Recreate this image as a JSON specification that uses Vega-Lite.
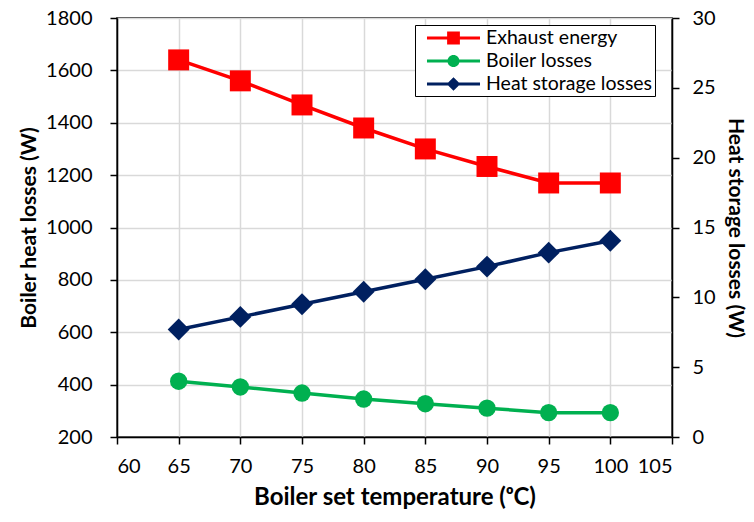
{
  "$schema": "https://vega.github.io/schema/vega-lite/v6.json",
  "width": 555,
  "height": 419,
  "autosize": {"type": "none"},
  "padding": {"left": 117, "top": 18, "right": 82, "bottom": 85},
  "background": "white",
  "config": {
    "font": "Lato",
    "view": {"stroke": "black", "strokeWidth": 1.5},
    "axis": {
      "domainColor": "black",
      "domainWidth": 1.5,
      "tickColor": "black",
      "tickWidth": 1.5,
      "tickSize": 7,
      "labelFont": "Lato",
      "labelFontSize": 20,
      "labelColor": "black",
      "titleFont": "Lato",
      "titleFontSize": 21,
      "titleFontWeight": "bold",
      "titleColor": "black",
      "gridColor": "#d9d9d9",
      "gridWidth": 1.5
    }
  },
  "data": {
    "values": [
      {"T": 65, "series": "Exhaust energy", "value": 1640},
      {"T": 70, "series": "Exhaust energy", "value": 1560},
      {"T": 75, "series": "Exhaust energy", "value": 1468},
      {"T": 80, "series": "Exhaust energy", "value": 1380},
      {"T": 85, "series": "Exhaust energy", "value": 1300},
      {"T": 90, "series": "Exhaust energy", "value": 1233},
      {"T": 95, "series": "Exhaust energy", "value": 1170},
      {"T": 100, "series": "Exhaust energy", "value": 1170},
      {"T": 65, "series": "Boiler losses", "value": 413},
      {"T": 70, "series": "Boiler losses", "value": 391},
      {"T": 75, "series": "Boiler losses", "value": 368},
      {"T": 80, "series": "Boiler losses", "value": 345},
      {"T": 85, "series": "Boiler losses", "value": 327},
      {"T": 90, "series": "Boiler losses", "value": 310},
      {"T": 95, "series": "Boiler losses", "value": 293},
      {"T": 100, "series": "Boiler losses", "value": 293},
      {"T": 65, "series": "Heat storage losses", "value": 7.7},
      {"T": 70, "series": "Heat storage losses", "value": 8.6},
      {"T": 75, "series": "Heat storage losses", "value": 9.5},
      {"T": 80, "series": "Heat storage losses", "value": 10.4},
      {"T": 85, "series": "Heat storage losses", "value": 11.3},
      {"T": 90, "series": "Heat storage losses", "value": 12.2},
      {"T": 95, "series": "Heat storage losses", "value": 13.2},
      {"T": 100, "series": "Heat storage losses", "value": 14.05}
    ]
  },
  "encoding": {
    "x": {
      "field": "T",
      "type": "quantitative",
      "scale": {"domain": [60, 105], "nice": false, "zero": false},
      "axis": {
        "values": [60, 65, 70, 75, 80, 85, 90, 95, 100, 105],
        "title": "Boiler set temperature (ᵒC)",
        "grid": true,
        "labelPadding": 12,
        "titlePadding": 9,
        "titleFontSize": 24
      }
    },
    "color": {
      "field": "series",
      "type": "nominal",
      "scale": {
        "domain": ["Exhaust energy", "Boiler losses", "Heat storage losses"],
        "range": ["#ff0000", "#00b050", "#002060"]
      },
      "legend": {
        "title": null,
        "orient": "none",
        "legendX": 298,
        "legendY": 7,
        "direction": "vertical",
        "strokeColor": "black",
        "fillColor": "white",
        "padding": 2,
        "cornerRadius": 0,
        "labelFontSize": 19.5,
        "labelColor": "black",
        "labelFont": "Lato",
        "labelLimit": 400,
        "labelOffset": 21.5,
        "symbolSize": 484,
        "symbolOffset": 25.5,
        "rowPadding": 2,
        "encode": {
          "symbols": {
            "update": {
              "shape": {"signal": "datum.value === 'Exhaust energy' ? 'M-2.41,-0.14H2.41V0.14H-2.41Z M-0.58,-0.58H0.58V0.58H-0.58Z' : (datum.value === 'Boiler losses' ? 'M-2.41,-0.14H2.41V0.14H-2.41Z M-0.55,0A0.55,0.55 0 1,1 0.55,0A0.55,0.55 0 1,1 -0.55,0Z' : 'M-2.41,-0.14H2.41V0.14H-2.41Z M0,-0.62L0.62,0L0,0.62L-0.62,0Z')"},
              "fill": {"signal": "scale('color', datum.value)"},
              "fillOpacity": {"value": 1},
              "strokeWidth": {"value": 0}
            }
          }
        }
      }
    }
  },
  "layer": [
    {
      "transform": [{"filter": "datum.series !== 'Heat storage losses'"}],
      "encoding": {
        "y": {
          "field": "value",
          "type": "quantitative",
          "scale": {"domain": [200, 1800], "nice": false, "zero": false},
          "axis": {
            "values": [200, 400, 600, 800, 1000, 1200, 1400, 1600, 1800],
            "format": "d",
            "title": "Boiler heat losses (W)",
            "grid": true,
            "labelPadding": 18,
            "titlePadding": 6
          }
        }
      },
      "layer": [
        {"mark": {"type": "line", "strokeWidth": 3.5}},
        {
          "transform": [{"filter": "datum.series === 'Exhaust energy'"}],
          "mark": {"type": "point", "shape": "square", "filled": true, "opacity": 1, "size": 440}
        },
        {
          "transform": [{"filter": "datum.series === 'Boiler losses'"}],
          "mark": {"type": "point", "shape": "circle", "filled": true, "opacity": 1, "size": 300}
        }
      ]
    },
    {
      "transform": [{"filter": "datum.series === 'Heat storage losses'"}],
      "encoding": {
        "y": {
          "field": "value",
          "type": "quantitative",
          "scale": {"domain": [0, 30], "nice": false},
          "axis": {
            "orient": "right",
            "values": [0, 5, 10, 15, 20, 25, 30],
            "title": "Heat storage losses (W)",
            "grid": false,
            "labelPadding": 13,
            "titlePadding": 9
          }
        }
      },
      "layer": [
        {"mark": {"type": "line", "strokeWidth": 3.5}},
        {
          "mark": {"type": "point", "shape": "diamond", "filled": true, "opacity": 1, "size": 480}
        }
      ]
    }
  ],
  "resolve": {"scale": {"y": "independent"}}
}
